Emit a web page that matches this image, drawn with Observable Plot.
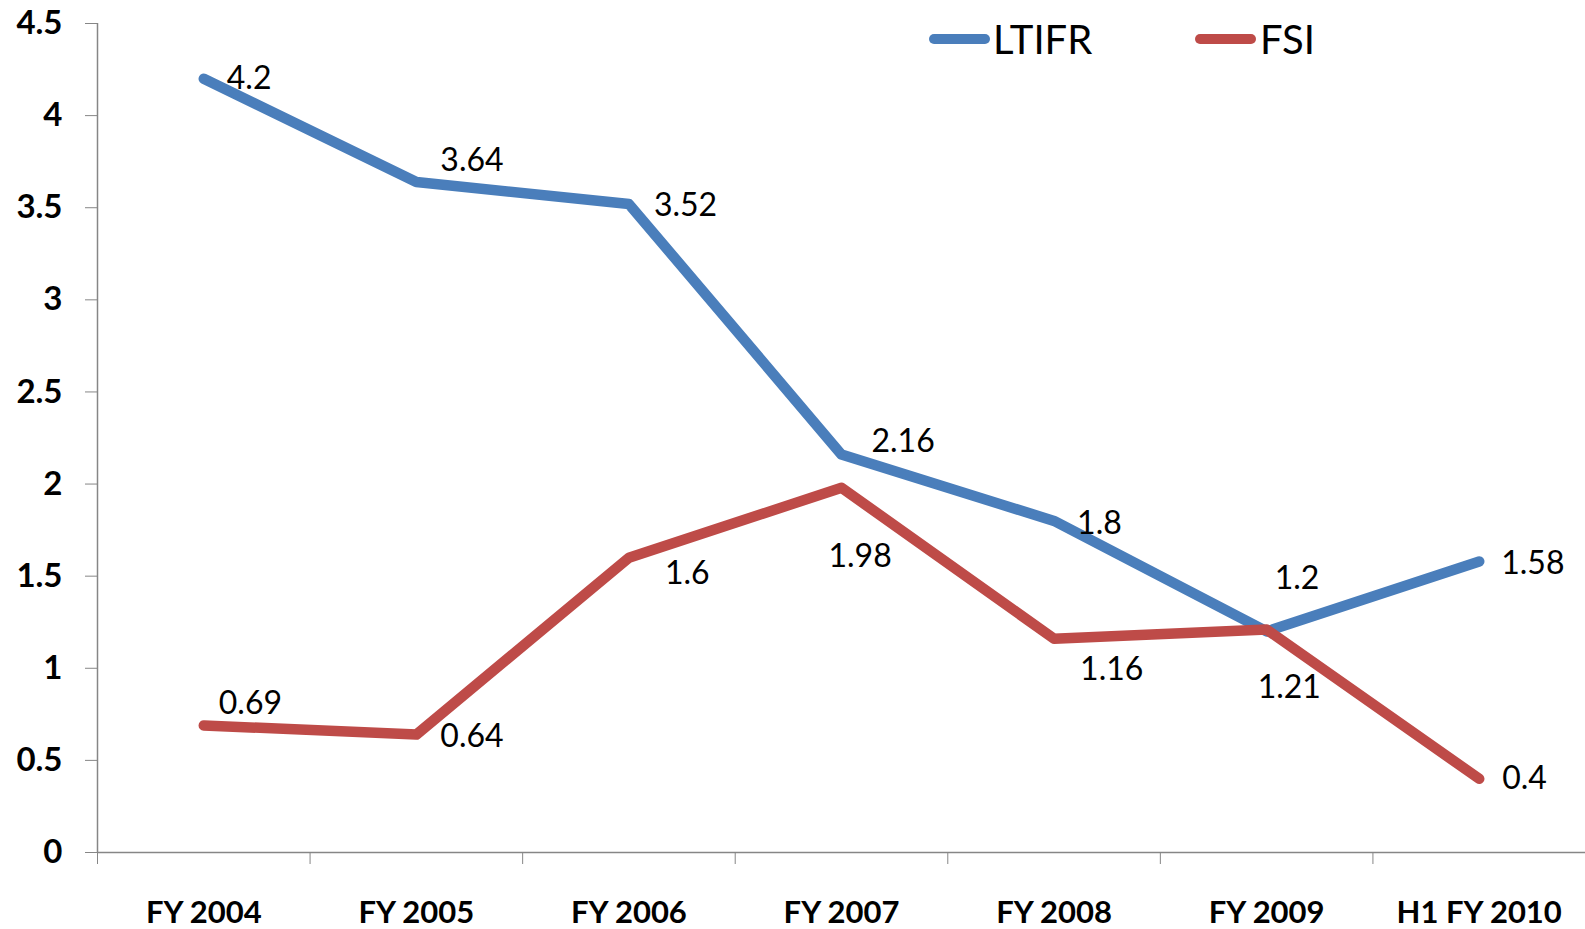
<!DOCTYPE html>
<html>
<head>
<meta charset="utf-8">
<script src="https://cdn.jsdelivr.net/npm/d3@7"></script>
<script src="https://cdn.jsdelivr.net/npm/@observablehq/plot@0.6"></script>
<style>
  html, body { margin: 0; padding: 0; background: #fff; overflow: hidden; }
  #wrap { position: relative; width: 1585px; height: 929px; }
  .legend { position: absolute; top: 0; left: 0; font-family: Lato, sans-serif; font-size: 40px; color: #000; }
  .legend .sw { position: absolute; height: 10px; border-radius: 5px; }
  .legend .lab { position: absolute; line-height: 40px; }
</style>
</head>
<body>
<div id="wrap"></div>
<script>
// ---- data ----
const categories = ["FY 2004", "FY 2005", "FY 2006", "FY 2007", "FY 2008", "FY 2009", "H1 FY 2010"];
const ltifr = [4.2, 3.64, 3.52, 2.16, 1.8, 1.2, 1.58];
const fsi = [0.69, 0.64, 1.6, 1.98, 1.16, 1.21, 0.4];
const yTicks = [0, 0.5, 1, 1.5, 2, 2.5, 3, 3.5, 4, 4.5];
const seriesNames = ["LTIFR", "FSI"];
const seriesColors = ["#4A7EBB", "#BE4B48"];

// ---- chart ----
const rows = categories.map((c, i) => ({i, c, LTIFR: ltifr[i], FSI: fsi[i]}));
const idx = categories.map((c, i) => i);
const bounds = [-0.5, ...idx.map(i => i + 0.5)];

// label offsets (layout only), text-anchor start
const offsets = {
  LTIFR: [[23, 0], [24, -21], [25, 2], [30, -13], [23, 3], [8, -53], [22, 2]],
  FSI:   [[15, -22], [24, 2], [36, 16], [-13, 69], [26, 31], [-9, 58], [23, 0]]
};

const marks = [
  Plot.ruleY([0], {stroke: "#868686", strokeWidth: 1.5}),
  Plot.ruleX([-0.5], {stroke: "#868686", strokeWidth: 1.5}),
  Plot.axisY({ticks: yTicks, tickSize: 12, tickPadding: 23, tickFormat: d => String(d),
    fontSize: 33, fontWeight: "bold", stroke: "#868686", fill: "#000", label: null}),
  Plot.axisX({ticks: bounds, tickSize: 12, tickFormat: () => "", stroke: "#868686", label: null}),
  Plot.axisX({ticks: idx, tickSize: 0, tickPadding: 48, tickFormat: i => categories[i],
    fontSize: 31, fontWeight: "bold", fill: "#000", label: null}),
];
seriesNames.forEach((s, k) => {
  marks.push(Plot.line(rows, {x: "i", y: s, stroke: seriesColors[k], strokeWidth: 10.5,
    strokeLinecap: "round", strokeLinejoin: "round"}));
});
seriesNames.forEach((s) => {
  rows.forEach((r, i) => {
    const [dx, dy] = offsets[s][i];
    marks.push(Plot.text([r], {x: "i", y: s, text: d => String(d[s]), dx, dy,
      textAnchor: "start", fontSize: 32, fill: "#000"}));
  });
});

const chart = Plot.plot({
  width: 1585,
  height: 929,
  marginLeft: 97,
  marginRight: 0,
  marginTop: 23,
  marginBottom: 77,
  style: {fontFamily: "Lato, sans-serif", background: "#fff", overflow: "visible"},
  x: {type: "linear", domain: [-0.5, categories.length - 0.5], axis: null},
  y: {domain: [0, 4.5], axis: null},
  marks
});
const wrap = document.getElementById("wrap");
wrap.appendChild(chart);

// legend overlay
const legend = document.createElement("div");
legend.className = "legend";
const legendPos = [[929, 993], [1195, 1260]];
seriesNames.forEach((s, k) => {
  const sw = document.createElement("div");
  sw.className = "sw";
  sw.style.left = legendPos[k][0] + "px";
  sw.style.width = "61px";
  sw.style.top = "34px";
  sw.style.background = seriesColors[k];
  const lab = document.createElement("div");
  lab.className = "lab";
  lab.style.left = legendPos[k][1] + "px";
  lab.style.top = "19px";
  lab.textContent = s;
  legend.appendChild(sw);
  legend.appendChild(lab);
});
wrap.appendChild(legend);
</script>
</body>
</html>
